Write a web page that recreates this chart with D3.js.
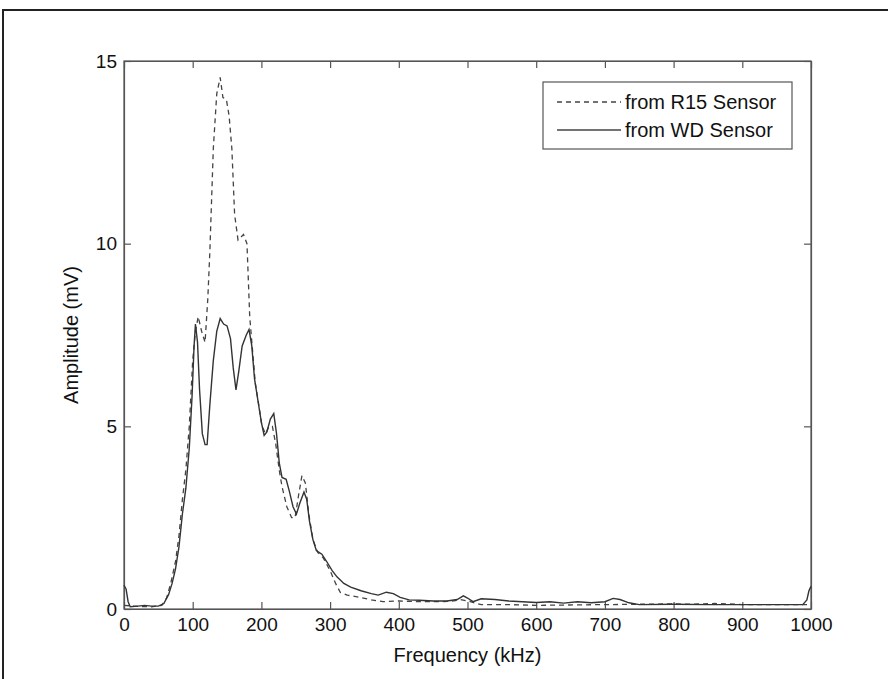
<!DOCTYPE html>
<html>
<head>
<meta charset="utf-8">
<script src="https://cdn.jsdelivr.net/npm/d3@7"></script>
<style>
  body { margin: 0; background: #fff; }
  text { font-family: "Liberation Sans", Arial, sans-serif; fill: #111; }
</style>
</head>
<body>
<div id="chart"></div>
<script>
// WD sensor (solid line)
var wdFreq = [0, 3, 6, 9, 20, 30, 40, 50, 58, 65, 70, 75, 80, 85, 90, 95, 99, 102, 104, 107, 110, 114, 118, 121, 125, 130, 135, 140, 145, 150, 155, 159, 163, 167, 172, 178, 182, 186, 190, 195, 200, 204, 208, 213, 218, 222, 226, 230, 236, 241, 246, 251, 256, 262, 266, 270, 275, 280, 288, 295, 303, 310, 320, 330, 345, 360, 370, 382, 392, 402, 415, 430, 450, 470, 485, 494, 500, 508, 520, 540, 560, 580, 600, 620, 640, 660, 680, 700, 712, 722, 735, 750, 800, 850, 900, 950, 988, 994, 997, 1000]
var wdAmp = [0.65, 0.55, 0.2, 0.06, 0.08, 0.1, 0.08, 0.08, 0.15, 0.4, 0.7, 1.1, 1.7, 2.6, 3.3, 4.4, 5.8, 7.2, 7.8, 7.3, 6.0, 4.8, 4.5, 4.5, 5.6, 6.8, 7.6, 7.95, 7.8, 7.75, 7.4, 6.6, 6.0, 6.5, 7.2, 7.5, 7.65, 7.2, 6.3, 5.7, 5.1, 4.75, 4.85, 5.2, 5.35, 4.8, 4.0, 3.6, 3.55, 3.2, 2.8, 2.6, 2.9, 3.2, 3.0, 2.4, 1.9, 1.6, 1.5, 1.3, 1.05, 0.88, 0.7, 0.6, 0.5, 0.42, 0.38, 0.46, 0.42, 0.32, 0.25, 0.24, 0.22, 0.22, 0.26, 0.36, 0.3, 0.2, 0.28, 0.26, 0.22, 0.2, 0.18, 0.2, 0.16, 0.2, 0.17, 0.2, 0.29, 0.26, 0.17, 0.12, 0.13, 0.12, 0.12, 0.12, 0.12, 0.25, 0.5, 0.62]

// R15 sensor (dashed line)
var r15Freq = [0, 20, 40, 55, 62, 68, 75, 80, 85, 90, 95, 100, 104, 108, 113, 118, 122, 125, 130, 135, 140, 144, 149, 153, 157, 161, 166, 174, 179, 183, 187, 191, 196, 201, 206, 211, 216, 221, 226, 230, 237, 244, 249, 254, 259, 264, 269, 275, 282, 290, 300, 308, 315, 325, 343, 360, 377, 400, 430, 460, 480, 490, 500, 520, 560, 600, 700, 800, 820, 860, 880, 900, 1000]
var r15Amp = [0.1, 0.07, 0.06, 0.1, 0.3, 0.7, 1.3, 2.0, 3.0, 3.8, 5.0, 6.8, 7.6, 8.0, 7.6, 7.3, 8.5, 9.8, 12.6, 14.1, 14.55, 14.0, 13.95, 13.5, 12.6, 10.8, 10.1, 10.25, 10.0, 8.0, 7.1, 6.2, 5.6, 5.0, 4.8, 5.0, 5.0, 4.5, 3.8, 3.35, 2.8, 2.5, 2.5, 3.1, 3.65, 3.45, 2.6, 1.9, 1.55, 1.4, 1.05, 0.7, 0.45, 0.38, 0.32, 0.25, 0.2, 0.22, 0.2, 0.2, 0.22, 0.26, 0.22, 0.12, 0.12, 0.1, 0.12, 0.14, 0.13, 0.15, 0.14, 0.12, 0.12]

var xTicks = [0, 100, 200, 300, 400, 500, 600, 700, 800, 900, 1000]
var yTicks = [0, 5, 10, 15]
var legendLabels = ["from R15 Sensor", "from WD Sensor"]

var width = 888
var height = 679
var margin = {top: 61, right: 77, bottom: 70, left: 124}
var w = width - margin.left - margin.right
var h = height - margin.top - margin.bottom

var svg = d3.select("#chart")
  .append("svg")
  .attr("width", width)
  .attr("height", height)

// outer frame of the scanned figure (only left and top edges show)
svg.append("rect")
  .attr("x", 3).attr("y", 10)
  .attr("width", 920).attr("height", 720)
  .attr("fill", "none")
  .attr("stroke", "#222")
  .attr("stroke-width", 2)

var g = svg.append("g")
  .attr("transform", "translate(" + margin.left + "," + margin.top + ")")

var x = d3.scaleLinear().domain([0, 1000]).range([0, w])
var y = d3.scaleLinear().domain([0, 15]).range([h, 0])

var tickLen = 7

// axes, ticks pointing inward like matlab
g.append("g")
  .attr("transform", "translate(0," + h + ")")
  .call(d3.axisBottom(x).tickValues(xTicks).tickSizeInner(-tickLen).tickSizeOuter(0).tickPadding(9).tickFormat(d3.format("d")))
g.append("g")
  .call(d3.axisTop(x).tickValues(xTicks).tickSizeInner(-tickLen).tickSizeOuter(0).tickFormat(""))
g.append("g")
  .call(d3.axisLeft(y).tickValues(yTicks).tickSizeInner(-tickLen).tickSizeOuter(0).tickPadding(7))
g.append("g")
  .attr("transform", "translate(" + w + ",0)")
  .call(d3.axisRight(y).tickValues(yTicks).tickSizeInner(-tickLen).tickSizeOuter(0).tickFormat(""))

g.selectAll(".domain, .tick line").attr("stroke", "#555").attr("stroke-width", 1.2)
g.selectAll(".tick text").style("font-size", "19px").attr("fill", "#111")

g.append("rect")
  .attr("width", w).attr("height", h)
  .attr("fill", "none")
  .attr("stroke", "#555")
  .attr("stroke-width", 1.2)

var line = d3.line()
  .x(function(d) { return x(d[0]) })
  .y(function(d) { return y(d[1]) })

g.append("path")
  .datum(d3.zip(r15Freq, r15Amp))
  .attr("d", line)
  .attr("fill", "none")
  .attr("stroke", "#444")
  .attr("stroke-width", 1.3)
  .attr("stroke-dasharray", "5,4")

g.append("path")
  .datum(d3.zip(wdFreq, wdAmp))
  .attr("d", line)
  .attr("fill", "none")
  .attr("stroke", "#333")
  .attr("stroke-width", 1.4)

// axis labels
svg.append("text")
  .attr("x", margin.left + w / 2)
  .attr("y", 662)
  .attr("text-anchor", "middle")
  .style("font-size", "20px")
  .text("Frequency (kHz)")

svg.append("text")
  .attr("transform", "translate(78," + (margin.top + h / 2) + ") rotate(-90)")
  .attr("text-anchor", "middle")
  .style("font-size", "20px")
  .text("Amplitude (mV)")

// legend
var leg = svg.append("g").attr("transform", "translate(543,82)")
leg.append("rect")
  .attr("width", 249).attr("height", 67)
  .attr("fill", "#fff")
  .attr("stroke", "#555")
  .attr("stroke-width", 1.2)

var rows = [{label: legendLabels[0], dash: "5,4"}, {label: legendLabels[1], dash: null}]
rows.forEach(function(r, i) {
  var ly = 20 + i * 28
  leg.append("line")
    .attr("x1", 14).attr("x2", 78)
    .attr("y1", ly).attr("y2", ly)
    .attr("stroke", "#444")
    .attr("stroke-width", 1.3)
    .attr("stroke-dasharray", r.dash)
  leg.append("text")
    .attr("x", 82).attr("y", ly + 7)
    .style("font-size", "20px")
    .text(r.label)
})
</script>
</body>
</html>
